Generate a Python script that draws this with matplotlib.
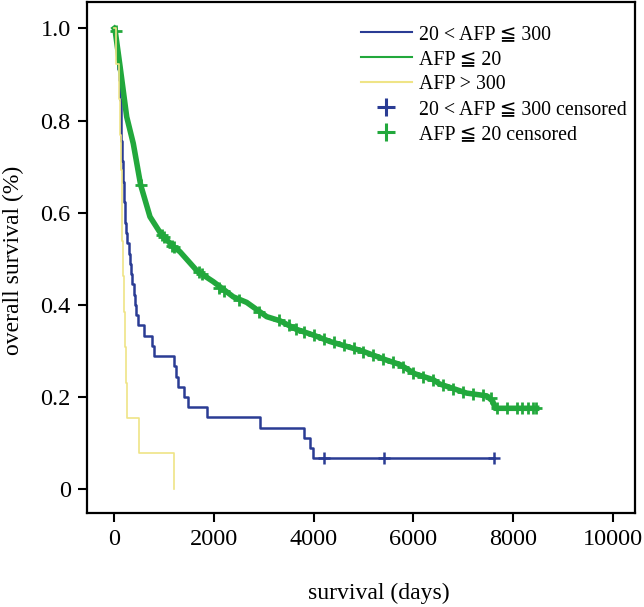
import numpy as np
import matplotlib
matplotlib.use('Agg')
import matplotlib.pyplot as plt
from matplotlib.lines import Line2D

plt.rcParams['font.family'] = ['Liberation Serif', 'DejaVu Serif', 'DejaVu Sans']

BLUE = '#2a3c94'
GREEN = '#22a83c'
YELLOW = '#efe486'

# 20 < AFP <= 300 : step curve (time, survival)
blue_t = [0, 20, 45, 60, 80, 100, 110, 118, 125, 130, 136, 142, 150, 160, 170, 180,
          192, 203, 212, 220, 232, 258, 290, 310, 330, 358, 390, 418, 440, 469,
          602, 750, 790, 1198, 1240, 1284, 1399, 1485, 1853, 2923, 3806, 3927, 3993, 7620]
blue_s = [1.0, 0.978, 0.956, 0.933, 0.911, 0.889, 0.867, 0.844, 0.822, 0.800, 0.778,
          0.756, 0.733, 0.711, 0.689, 0.667, 0.644, 0.622, 0.600, 0.578, 0.556, 0.533,
          0.511, 0.489, 0.467, 0.444, 0.422, 0.400, 0.378, 0.356, 0.333, 0.311, 0.289,
          0.267, 0.244, 0.222, 0.200, 0.178, 0.156, 0.133, 0.111, 0.089, 0.067, 0.067]
blue_cens_t = [4208, 5411, 7620]
blue_cens_s = [0.067, 0.067, 0.067]

# AFP <= 20
green_t = [0, 14, 116, 249, 381, 529, 716, 940, 1184, 1318, 1664, 1986, 2388, 2656,
           3058, 3325, 3641, 3993, 4328, 4958, 5453, 5732, 6030, 6401, 6524, 7070,
           7471, 7595, 7638, 8474]
green_s = [1.0, 0.998, 0.917, 0.808, 0.750, 0.660, 0.591, 0.553, 0.526, 0.515, 0.473,
           0.450, 0.417, 0.405, 0.374, 0.365, 0.347, 0.334, 0.320, 0.300, 0.280, 0.270,
           0.250, 0.237, 0.228, 0.208, 0.202, 0.190, 0.175, 0.175]
green_cens_t = [30, 529, 960, 1000, 1150, 1190, 1700, 1760, 2100, 2200, 2500, 2900,
                3300, 3500, 3650, 3800, 4000, 4200, 4400, 4600, 4800, 5000, 5200, 5400,
                5600, 5800, 6000, 6200, 6400, 6600, 6800, 7000, 7200, 7400, 7550,
                7677, 7873, 8074, 8180, 8300, 8400, 8470]
green_cens_s = [0.995, 0.660, 0.552, 0.548, 0.528, 0.525, 0.470, 0.466, 0.437, 0.430,
                0.410, 0.385, 0.366, 0.355, 0.347, 0.341, 0.334, 0.326, 0.318, 0.312,
                0.305, 0.298, 0.290, 0.282, 0.275, 0.265, 0.252, 0.243, 0.237, 0.226,
                0.217, 0.210, 0.206, 0.203, 0.198, 0.175, 0.175, 0.175, 0.175, 0.175,
                0.175, 0.175]

# AFP > 300
yellow_t = [0, 40, 85, 118, 130, 145, 160, 170, 190, 205, 230, 260, 502, 1198]
yellow_s = [1.0, 0.923, 0.846, 0.769, 0.692, 0.615, 0.538, 0.462, 0.385, 0.308,
            0.231, 0.154, 0.077, 0.0]

labels = ['20 < AFP \u2266 300', 'AFP \u2266 20', 'AFP > 300',
          '20 < AFP \u2266 300 censored', 'AFP \u2266 20 censored']

fig = plt.figure(figsize=(6.44, 6.07), dpi=100)
ax = fig.add_axes([0.1346, 0.1544, 0.8514, 0.8428])

ax.plot(blue_t, blue_s, drawstyle='steps-post', color=BLUE, lw=1.8)
ax.plot(blue_cens_t, blue_cens_s, ls='none', marker='+', ms=8, mew=1.8, color=BLUE)
ax.plot(green_t, green_s, color=GREEN, lw=4)
ax.plot(green_cens_t, green_cens_s, ls='none', marker='+', ms=9, mew=2, color=GREEN)
ax.plot(yellow_t, yellow_s, drawstyle='steps-post', color=YELLOW, lw=1.2)

ax.set_xlim(-554, 10447)
ax.set_ylim(-0.053, 1.058)
ax.set_xticks([0, 2000, 4000, 6000, 8000, 10000])
ax.set_yticks([0, 0.2, 0.4, 0.6, 0.8, 1.0])
ax.set_yticklabels(['0', '0.2', '0.4', '0.6', '0.8', '1.0'])
ax.tick_params(direction='out', length=6.5, width=1.5, labelsize=17.5, pad=5)
for sp in ax.spines.values():
    sp.set_linewidth(1.6)

ax.set_xlabel('survival (days)', fontsize=17)
ax.set_ylabel('overall survival (%)', fontsize=17)
ax.xaxis.set_label_coords(0.532, -0.135)
ax.yaxis.set_label_coords(-0.115, 0.495)

handles = [Line2D([], [], color=BLUE, lw=1.5),
           Line2D([], [], color=GREEN, lw=1.5),
           Line2D([], [], color=YELLOW, lw=1.5),
           Line2D([], [], color=BLUE, ls='none', marker='+', ms=13, mew=2.2),
           Line2D([], [], color=GREEN, ls='none', marker='+', ms=13, mew=2.2)]
ax.legend(handles, labels, loc='upper left', bbox_to_anchor=(361 / 644, 1 - 25 / 607),
          bbox_transform=fig.transFigure, frameon=False, fontsize=14.3, borderpad=0,
          handlelength=2.55, handletextpad=0.35, labelspacing=0.3, borderaxespad=0)

fig.savefig('out.png', dpi=100)
